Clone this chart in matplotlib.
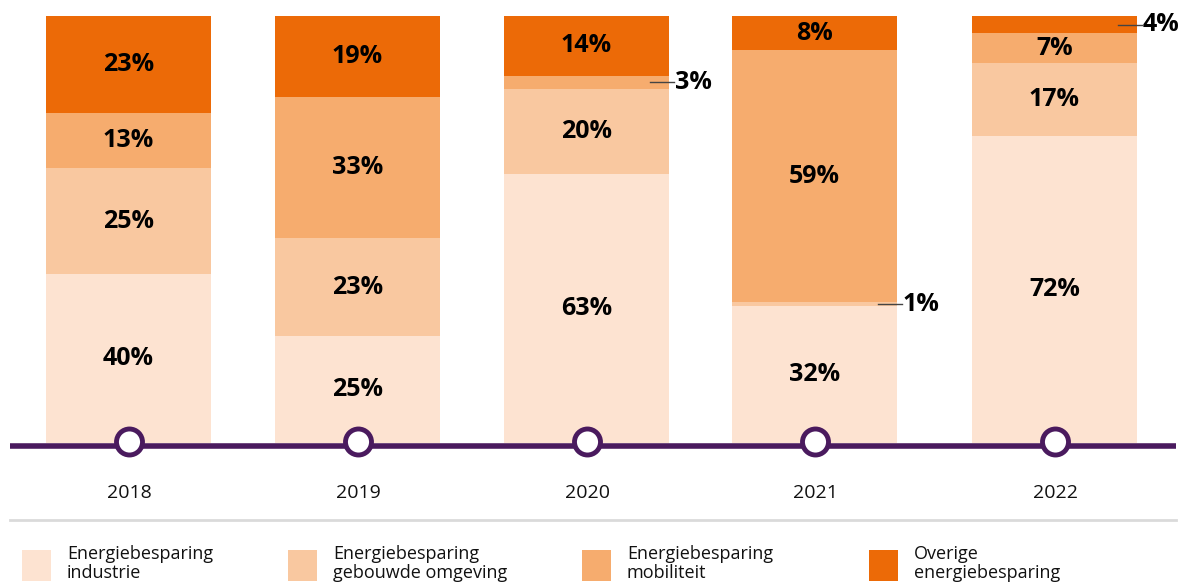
import matplotlib.pyplot as plt
from matplotlib.patches import Rectangle, Circle

# data
years = ["2018", "2019", "2020", "2021", "2022"]
categories = ["Energiebesparing\nindustrie", "Energiebesparing\ngebouwde omgeving",
              "Energiebesparing\nmobiliteit", "Overige\nenergiebesparing"]
industrie = [40, 25, 63, 32, 72]
gebouwd = [25, 23, 20, 1, 17]
mobiliteit = [13, 33, 3, 59, 7]
overige = [23, 19, 14, 8, 4]
series = [industrie, gebouwd, mobiliteit, overige]
colors = ["#FDE3D1", "#F9C8A0", "#F6AC6E", "#EC6A07"]

# layout (pixels)
W, H = 1190, 585
centers = [128.5, 357.5, 586.5, 814.5, 1054.5]
bar_w = 165
bar_top, bar_bot = 16, 443
purple = "#4A1A5E"

plt.rcParams['font.family'] = ['Open Sans', 'DejaVu Sans']

fig = plt.figure(figsize=(W / 100, H / 100), dpi=100)
ax = fig.add_axes([0, (H - bar_bot) / H, 1, (bar_bot - bar_top) / H])
ax.set_xlim(0, W)
ax.set_ylim(0, 100)
ax.axis("off")

totals = [sum(s[i] for s in series) for i in range(len(years))]
bottoms = [0.0] * len(years)
for vals, col in zip(series, colors):
    h = [v / t * 100 for v, t in zip(vals, totals)]
    ax.bar(centers, h, width=bar_w, bottom=bottoms, color=col, linewidth=0)
    for i, v in enumerate(vals):
        mid = bottoms[i] + h[i] / 2
        if v >= 5:
            ax.text(centers[i], mid, f"{v}%", ha="center", va="center",
                    fontsize=18, fontweight="bold", color="black")
        else:
            right = centers[i] + bar_w / 2
            ax.plot([right - 19, right + 5], [mid, mid], color="#444444", lw=1, clip_on=False)
            ax.text(right + 6, mid, f"{v}%", ha="left", va="center",
                    fontsize=18, fontweight="bold", color="black")
    bottoms = [b + x for b, x in zip(bottoms, h)]

# overlay in pixel coordinates
ov = fig.add_axes([0, 0, 1, 1])
ov.set_xlim(0, W)
ov.set_ylim(H, 0)
ov.axis("off")
ov.patch.set_alpha(0)

ov.plot([10, 1176], [446, 446], color=purple, lw=4, solid_capstyle="butt")
for c, y in zip(centers, years):
    ov.add_patch(Circle((c + 1, 442), 13, facecolor="white", edgecolor=purple, lw=3.5, zorder=3))
    ov.text(c + 1, 493, y, ha="center", va="center", fontsize=14, color="#111111")

ov.plot([10, 1176], [520, 520], color="#DADADA", lw=2)

leg_x = [22, 288, 582, 869]
for x, lab, col in zip(leg_x, categories, colors):
    ov.add_patch(Rectangle((x, 550), 29, 31, facecolor=col, edgecolor="none"))
    ov.text(x + 45, 545, lab, ha="left", va="top", fontsize=13,
            color="#111111", linespacing=1.05)

fig.savefig("out.png", dpi=100)
